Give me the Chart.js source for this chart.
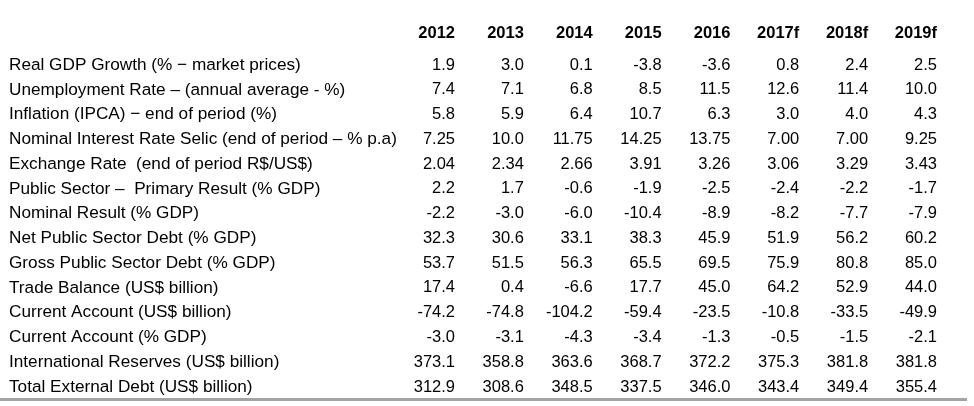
<!DOCTYPE html>
<html>
<head>
<meta charset="utf-8">
<script src="https://cdn.jsdelivr.net/npm/chart.js@4/dist/chart.umd.min.js"></script>
<style>
  body { margin: 0; background: #fff; }
  #wrap { width: 974px; height: 406px; }
</style>
</head>
<body>
<div id="wrap"><canvas id="macroTable" width="974" height="406"></canvas></div>
<script>
// Column headers (years, f = forecast)
const years = ['2012', '2013', '2014', '2015', '2016', '2017f', '2018f', '2019f'];

// Row labels
const rowLabels = [
    'Real GDP Growth (% \u2212 market prices)',
    'Unemployment Rate \u2013 (annual average - %)',
    'Inflation (IPCA) \u2212 end of period (%)',
    'Nominal Interest Rate Selic (end of period \u2013 % p.a)',
    'Exchange Rate  (end of period R$/US$)',
    'Public Sector \u2013  Primary Result (% GDP)',
    'Nominal Result (% GDP)',
    'Net Public Sector Debt (% GDP)',
    'Gross Public Sector Debt (% GDP)',
    'Trade Balance (US$ billion)',
    'Current Account (US$ billion)',
    'Current Account (% GDP)',
    'International Reserves (US$ billion)',
    'Total External Debt (US$ billion)'
];

// Row values, one array per indicator
const gdpGrowth      = [1.9, 3.0, 0.1, -3.8, -3.6, 0.8, 2.4, 2.5];
const unemployment   = [7.4, 7.1, 6.8, 8.5, 11.5, 12.6, 11.4, 10.0];
const inflation      = [5.8, 5.9, 6.4, 10.7, 6.3, 3.0, 4.0, 4.3];
const selic          = [7.25, 10.0, 11.75, 14.25, 13.75, 7.00, 7.00, 9.25];
const exchangeRate   = [2.04, 2.34, 2.66, 3.91, 3.26, 3.06, 3.29, 3.43];
const primaryResult  = [2.2, 1.7, -0.6, -1.9, -2.5, -2.4, -2.2, -1.7];
const nominalResult  = [-2.2, -3.0, -6.0, -10.4, -8.9, -8.2, -7.7, -7.9];
const netDebt        = [32.3, 30.6, 33.1, 38.3, 45.9, 51.9, 56.2, 60.2];
const grossDebt      = [53.7, 51.5, 56.3, 65.5, 69.5, 75.9, 80.8, 85.0];
const tradeBalance   = [17.4, 0.4, -6.6, 17.7, 45.0, 64.2, 52.9, 44.0];
const currentAccount = [-74.2, -74.8, -104.2, -59.4, -23.5, -10.8, -33.5, -49.9];
const currentAccGdp  = [-3.0, -3.1, -4.3, -3.4, -1.3, -0.5, -1.5, -2.1];
const reserves       = [373.1, 358.8, 363.6, 368.7, 372.2, 375.3, 381.8, 381.8];
const externalDebt   = [312.9, 308.6, 348.5, 337.5, 346.0, 343.4, 349.4, 355.4];

const rowValues = [gdpGrowth, unemployment, inflation, selic, exchangeRate, primaryResult,
    nominalResult, netDebt, grossDebt, tradeBalance, currentAccount, currentAccGdp, reserves, externalDebt];

// decimals shown per row (selic 2013 is printed with one decimal)
const rowDecimals = [1, 1, 1, [2, 1, 2, 2, 2, 2, 2, 2], 2, 1, 1, 1, 1, 1, 1, 1, 1, 1];

const FONT = "'Liberation Sans', Arial, sans-serif";
const VALUE_SIZE = 16.5;
const LABEL_SIZE = 17.2;

function fmt(row, col) {
    const d = Array.isArray(rowDecimals[row]) ? rowDecimals[row][col] : rowDecimals[row];
    return rowValues[row][col].toFixed(d);
}

// draws the cell values at each point and the bottom rule
const cellText = {
    id: 'cellText',
    afterDatasetsDraw(chart) {
        const ctx = chart.ctx;
        ctx.save();
        ctx.font = VALUE_SIZE + 'px ' + FONT;
        ctx.fillStyle = '#000';
        ctx.textAlign = 'right';
        ctx.textBaseline = 'middle';
        chart.data.datasets.forEach((ds, r) => {
            const meta = chart.getDatasetMeta(r);
            meta.data.forEach((pt, c) => {
                ctx.fillText(fmt(r, c), pt.x, pt.y);
            });
        });
        // grey bottom rule
        ctx.strokeStyle = '#a3a3a3';
        ctx.lineWidth = 3;
        ctx.beginPath();
        ctx.moveTo(0, chart.height - 6.5);
        ctx.lineTo(chart.width - 7, chart.height - 6.5);
        ctx.stroke();
        ctx.restore();
    }
};

document.addEventListener('DOMContentLoaded', function() {
    const ctx = document.getElementById('macroTable').getContext('2d');
    new Chart(ctx, {
        type: 'line',
        data: {
            labels: years,
            datasets: rowLabels.map((label, r) => ({
                label: label,
                data: years.map(yr => ({ x: yr, y: label })),
                showLine: false,
                pointRadius: 0,
                pointHoverRadius: 0
            }))
        },
        options: {
            responsive: false,
            animation: false,
            events: [],
            layout: { padding: { left: 9, right: 37, top: 0, bottom: 19 } },
            plugins: { legend: { display: false }, tooltip: { enabled: false } },
            scales: {
                x: {
                    type: 'category',
                    position: 'top',
                    offset: false,
                    grid: { display: false, drawTicks: false },
                    border: { display: false },
                    ticks: {
                        align: 'end',
                        autoSkip: false,
                        maxRotation: 0,
                        padding: 22,
                        color: '#000',
                        font: { family: FONT, size: VALUE_SIZE, weight: 'bold' }
                    },
                    afterFit(scale) { scale.height = 65; }
                },
                y: {
                    type: 'category',
                    labels: rowLabels,
                    offset: false,
                    grid: { display: false, drawTicks: false },
                    border: { display: false },
                    ticks: {
                        crossAlign: 'far',
                        autoSkip: false,
                        color: '#000',
                        font: { family: FONT, size: LABEL_SIZE }
                    },
                    afterFit(scale) { scale.width = 446; }
                }
            }
        },
        plugins: [cellText]
    });
});
</script>
</body>
</html>
